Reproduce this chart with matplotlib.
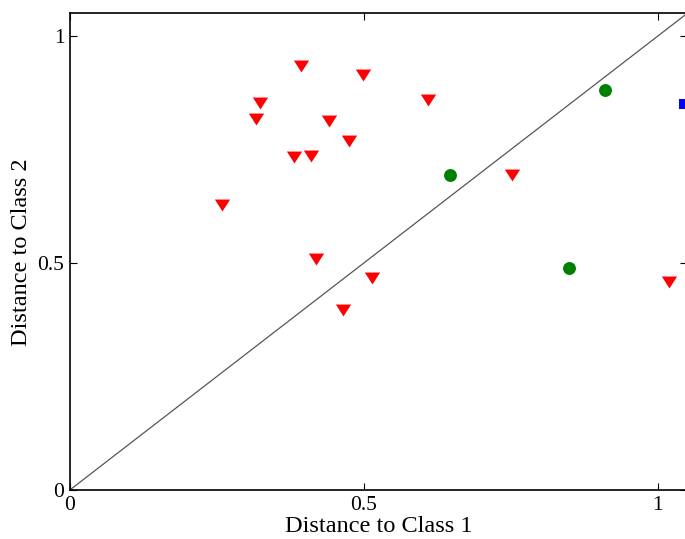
import matplotlib.pyplot as plt
from matplotlib.path import Path

plt.rcParams.update({
    "font.family": "serif",
    "font.serif": ["Liberation Serif", "DejaVu Serif"],
    "mathtext.fontset": "stix",
})

# distances of each sample to the two class prototypes
class1_x = [0.259, 0.394, 0.324, 0.317, 0.441, 0.499, 0.610, 0.382, 0.411,
            0.475, 0.419, 0.465, 0.514, 0.753, 1.019]
class1_y = [0.629, 0.934, 0.852, 0.817, 0.812, 0.914, 0.859, 0.733, 0.737,
            0.770, 0.508, 0.397, 0.466, 0.695, 0.458]
class2_x = [0.646, 0.910, 0.850]
class2_y = [0.693, 0.881, 0.490]
class3_x = [1.045]
class3_y = [0.851]

ticks = [0, 0.5, 1]
tick_labels = ["0", "0.5", "1"]
limit = 1.05

# wide, flat downward triangle
tri = Path([(-1.0, 0.78), (1.0, 0.78), (0.0, -0.78), (-1.0, 0.78)],
           [Path.MOVETO, Path.LINETO, Path.LINETO, Path.CLOSEPOLY])

fig = plt.figure(figsize=(6.85, 5.39), dpi=100, facecolor="white")
ax = fig.add_axes([0.102, 0.091, 0.901, 0.884])

ax.plot([0, limit], [0, limit], color="#555555", linewidth=0.9, zorder=1)
ax.plot(class1_x, class1_y, linestyle="none", marker=tri, markersize=11,
        color="#ff0000", markeredgewidth=0, zorder=3)
ax.plot(class2_x, class2_y, linestyle="none", marker="o", markersize=9.3,
        color="#008000", markeredgewidth=0, zorder=3)
ax.plot(class3_x, class3_y, linestyle="none", marker="s", markersize=7,
        color="#0000ff", markeredgewidth=0, zorder=3)

ax.set_xlim(0, limit)
ax.set_ylim(0, limit)
ax.set_xticks(ticks)
ax.set_xticklabels(tick_labels)
ax.set_yticks(ticks)
ax.set_yticklabels(tick_labels)
ax.tick_params(direction="in", length=5, width=0.8, top=True, right=True,
               labelsize=15.5, pad=4)
for spine in ax.spines.values():
    spine.set_linewidth(1.2)
# the right-hand frame edge falls at the very border of the canvas
ax.spines["right"].set_visible(False)

ax.set_xlabel("Distance to Class 1", fontsize=17.5, labelpad=1)
ax.set_ylabel("Distance to Class 2", fontsize=17.5, labelpad=4)

fig.savefig("out.png", dpi=100, facecolor="white")
